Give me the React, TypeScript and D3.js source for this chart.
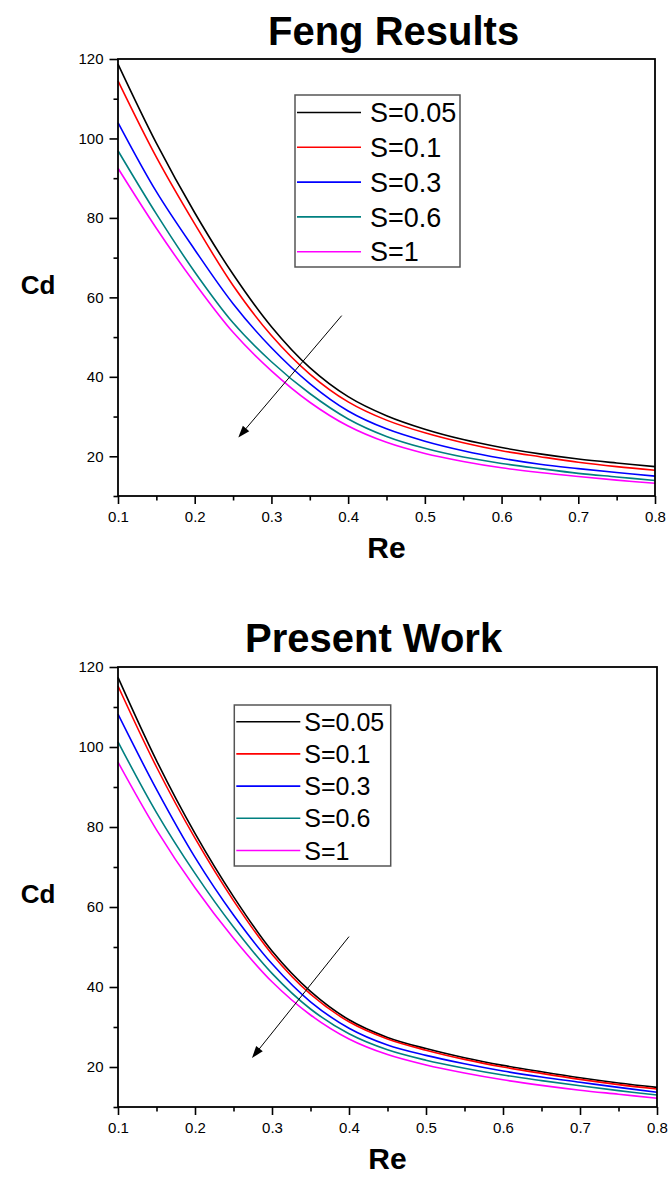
import { useEffect, useRef } from "react"
import * as d3 from "d3"

// Re values shared by all curves
const re = [0.1, 0.15, 0.2, 0.25, 0.3, 0.35, 0.4, 0.45, 0.5, 0.55, 0.6, 0.65, 0.7, 0.75, 0.8]

// Feng results
const fengS005 = [118.7, 98.8, 81.3, 65.8, 52.6, 42.3, 35.0, 30.2, 26.8, 24.2, 22.2, 20.6, 19.3, 18.3, 17.4]
const fengS01 = [114.5, 95.3, 78.5, 63.0, 50.4, 40.7, 33.7, 29.1, 25.9, 23.4, 21.4, 19.9, 18.5, 17.4, 16.5]
const fengS03 = [104.0, 86.6, 72.0, 58.4, 47.3, 38.3, 31.4, 26.9, 23.8, 21.4, 19.5, 18.0, 16.9, 15.9, 15.0]
const fengS06 = [96.9, 81.0, 66.4, 53.6, 43.8, 35.8, 29.4, 25.0, 22.0, 19.8, 18.2, 16.9, 15.7, 14.8, 13.9]
const fengS1 = [92.5, 77.4, 63.6, 51.2, 41.5, 33.6, 27.6, 23.5, 20.7, 18.7, 17.1, 15.9, 14.9, 14.0, 13.2]

// Present work
const presentS005 = [117.4, 96.6, 78.4, 62.6, 49.0, 38.9, 31.8, 27.4, 24.6, 22.3, 20.4, 18.8, 17.3, 16.0, 14.9]
const presentS01 = [115.25, 95.0, 77.2, 61.6, 48.2, 38.2, 31.3, 27.0, 24.2, 21.9, 20.0, 18.4, 16.9, 15.6, 14.5]
const presentS03 = [108.2, 89.4, 72.4, 58.0, 45.8, 36.3, 29.7, 25.5, 22.9, 20.8, 19.0, 17.5, 16.2, 14.9, 13.7]
const presentS06 = [101.3, 83.6, 68.4, 55.0, 43.4, 34.5, 28.3, 24.3, 21.7, 19.7, 18.0, 16.6, 15.3, 14.1, 13.0]
const presentS1 = [96.2, 79.3, 64.8, 52.2, 41.3, 33.0, 27.0, 23.1, 20.5, 18.5, 16.8, 15.4, 14.2, 13.2, 12.2]

const seriesNames = ["S=0.05", "S=0.1", "S=0.3", "S=0.6", "S=1"]
const seriesColors = ["#000000", "#ff0000", "#0000ff", "#008080", "#ff00ff"]

const xTicks = [0.1, 0.2, 0.3, 0.4, 0.5, 0.6, 0.7, 0.8]
const xMinorTicks = [0.15, 0.25, 0.35, 0.45, 0.55, 0.65, 0.75]
const yTicks = [20, 40, 60, 80, 100, 120]
const yMinorTicks = [10, 30, 50, 70, 90, 110]

// arrow [start, end] in data units (Re, Cd)
const fengArrow = [[0.3916, 55.4], [0.2568, 24.7]]
const presentArrow = [[0.4, 52.6], [0.274, 22.25]]

const font = "'Liberation Sans', Arial, sans-serif"

const panels = [
    {
        title: "Feng Results",
        series: [fengS005, fengS01, fengS03, fengS06, fengS1],
        arrow: fengArrow,
        left: 118, right: 655, top: 59, bottom: 496,
        titleX: 268, titleY: 45,
        legend: { x: 295, y: 95, w: 165, h: 172, row0: 17.5, rowH: 34.8, textX: 75, fontSize: 27 },
    },
    {
        title: "Present Work",
        series: [presentS005, presentS01, presentS03, presentS06, presentS1],
        arrow: presentArrow,
        left: 118, right: 657, top: 667, bottom: 1107,
        titleX: 245, titleY: 652,
        legend: { x: 234.3, y: 705, w: 156.4, h: 161, row0: 16.7, rowH: 32.2, textX: 70, fontSize: 25 },
    },
]

function drawPanel(svg: any, p: any) {
    const x = d3.scaleLinear().domain([0.1, 0.8]).range([p.left, p.right])
    const y = d3.scaleLinear().domain([10, 120]).range([p.bottom, p.top])
    const g = svg.append("g").attr("font-family", font)

    g.append("text")
        .attr("x", p.titleX)
        .attr("y", p.titleY)
        .attr("font-size", 40)
        .attr("font-weight", "bold")
        .text(p.title)

    const line = d3.line<number>()
        .x((d, i) => x(re[i]))
        .y(d => y(d))
        .curve(d3.curveCatmullRom.alpha(0.5))

    p.series.forEach((s: number[], i: number) => {
        g.append("path")
            .attr("d", line(s))
            .attr("fill", "none")
            .attr("stroke", seriesColors[i])
            .attr("stroke-width", 1.6)
    })

    // arrow
    const [a0, a1] = p.arrow
    const x0 = x(a0[0]), y0 = y(a0[1]), x1 = x(a1[0]), y1 = y(a1[1])
    const len = Math.hypot(x1 - x0, y1 - y0)
    const ux = (x1 - x0) / len, uy = (y1 - y0) / len
    const headL = 12, headW = 4.2
    g.append("line")
        .attr("x1", x0).attr("y1", y0)
        .attr("x2", x1 - ux * headL * 0.8).attr("y2", y1 - uy * headL * 0.8)
        .attr("stroke", "#000").attr("stroke-width", 1)
    const bx = x1 - ux * headL, by = y1 - uy * headL
    g.append("path")
        .attr("d", `M${x1},${y1} L${bx - uy * headW},${by + ux * headW} L${bx + uy * headW},${by - ux * headW} Z`)
        .attr("fill", "#000")

    // frame
    g.append("rect")
        .attr("x", p.left).attr("y", p.top)
        .attr("width", p.right - p.left).attr("height", p.bottom - p.top)
        .attr("fill", "none").attr("stroke", "#000").attr("stroke-width", 1.8)

    // axes
    const styleAxis = (sel: any) => {
        sel.select(".domain").remove()
        sel.attr("font-size", 15).attr("font-family", font)
        sel.selectAll("line").attr("stroke", "#000").attr("stroke-width", 1.6)
        sel.selectAll("text").attr("fill", "#000")
    }
    g.append("g").attr("transform", `translate(${p.left},0)`)
        .call(d3.axisLeft(y).tickValues(yMinorTicks).tickSize(4.5).tickFormat(() => ""))
        .call(styleAxis)
    g.append("g").attr("transform", `translate(${p.left},0)`)
        .call(d3.axisLeft(y).tickValues(yTicks).tickSize(8.5).tickPadding(6).tickFormat(d3.format("d")))
        .call(styleAxis)
    g.append("g").attr("transform", `translate(0,${p.bottom})`)
        .call(d3.axisBottom(x).tickValues(xMinorTicks).tickSize(4.5).tickFormat(() => ""))
        .call(styleAxis)
    g.append("g").attr("transform", `translate(0,${p.bottom})`)
        .call(d3.axisBottom(x).tickValues(xTicks).tickSize(8).tickPadding(7.5).tickFormat(d3.format(".1f")))
        .call(styleAxis)

    // axis titles
    g.append("text")
        .attr("x", (p.left + p.right) / 2)
        .attr("y", p.bottom + 62)
        .attr("text-anchor", "middle")
        .attr("font-size", 30)
        .attr("font-weight", "bold")
        .text("Re")
    g.append("text")
        .attr("x", 38)
        .attr("y", (p.top + p.bottom) / 2 + 16)
        .attr("text-anchor", "middle")
        .attr("font-size", 26)
        .attr("font-weight", "bold")
        .text("Cd")

    // legend
    const L = p.legend
    const lg = g.append("g").attr("transform", `translate(${L.x},${L.y})`)
    lg.append("rect")
        .attr("width", L.w).attr("height", L.h)
        .attr("fill", "#fff").attr("stroke", "#555").attr("stroke-width", 1.5)
    seriesNames.forEach((name, i) => {
        const ry = L.row0 + i * L.rowH
        lg.append("line")
            .attr("x1", 2).attr("x2", 66)
            .attr("y1", ry).attr("y2", ry)
            .attr("stroke", seriesColors[i]).attr("stroke-width", 1.6)
        lg.append("text")
            .attr("x", L.textX)
            .attr("y", ry + L.fontSize * 0.36)
            .attr("font-size", L.fontSize)
            .text(name)
    })
}

export default function App() {
    const ref = useRef<SVGSVGElement>(null)

    useEffect(() => {
        const svg = d3.select(ref.current)
        svg.selectAll("*").remove()
        panels.forEach(p => drawPanel(svg, p))
    }, [])

    return (
        <svg
            ref={ref}
            width={669}
            height={1177}
            style={{ position: "absolute", left: 0, top: 0, background: "#fff" }}
        />
    )
}
